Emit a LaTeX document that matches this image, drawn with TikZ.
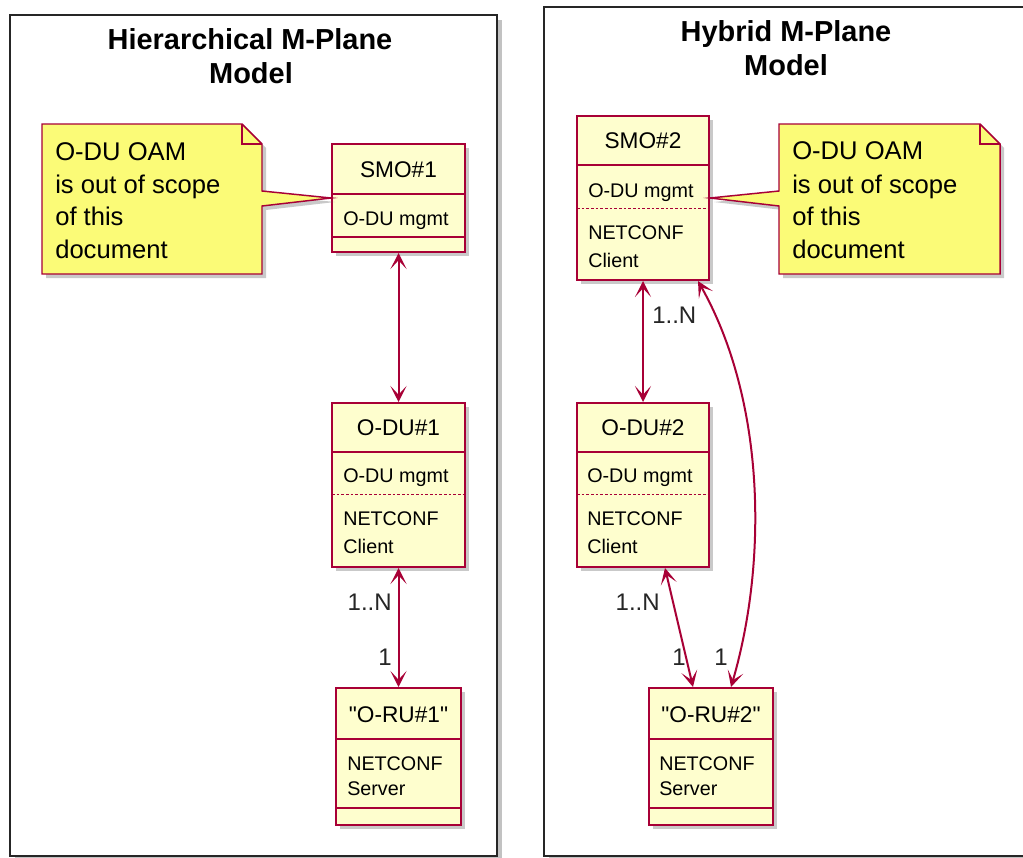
\documentclass[tikz,border=0pt]{standalone}
\usepackage{fontspec}
\setmainfont{Liberation Sans}[Ligatures=TeXOff]
\usetikzlibrary{fit,shadows,arrows.meta,calc}
\definecolor{umlred}{HTML}{A80036}
\definecolor{umlfill}{HTML}{FEFECE}
\definecolor{notefill}{HTML}{FBFB77}
\begin{document}
\begin{tikzpicture}[x=0.75pt,y=-0.75pt,
  shd/.style={drop shadow={shadow xshift=3pt,shadow yshift=-3pt,fill=black!60,opacity=0.35}},
  cls/.style={draw=umlred,line width=1.5pt,fill=umlfill,inner sep=0pt,shd},
  frm/.style={draw=black!85,line width=1.6pt,fill=white,inner sep=0pt,
    drop shadow={shadow xshift=4pt,shadow yshift=-4pt,fill=black!60,opacity=0.4}},
  sep/.style={draw=umlred,line width=1.2pt},
  dsep/.style={draw=umlred,line width=0.6pt,dash pattern=on 2pt off 1.5pt},
  ttl/.style={font=\fontsize{21.7}{26}\selectfont\bfseries,anchor=base,inner sep=0pt},
  cname/.style={font=\fontsize{17}{20}\selectfont,anchor=base,inner sep=0pt},
  mem/.style={font=\fontsize{14.8}{18}\selectfont,anchor=base west,inner sep=0pt},
  notetxt/.style={font=\fontsize{19.2}{24}\selectfont,anchor=base west,inner sep=0pt},
  notest/.style={draw=umlred,line width=1.1pt,fill=notefill,shd},
  mult/.style={font=\fontsize{18}{22}\selectfont,inner sep=0pt,text=black!85},
  link/.style={draw=umlred,line width=1.5pt,
    {Stealth[length=12pt,width=12pt,inset=6.5pt]}-{Stealth[length=12pt,width=12pt,inset=6.5pt]}}
]
\useasboundingbox (0,0) rectangle (1023,857);

% frames
\node[frm, fit={(10,15) (497,856)}] (hier) {};
\node[frm, fit={(544,7) (1040,856)}] (hyb) {};
\node[ttl] (t1a) at (250,49) {Hierarchical M-Plane};
\node[ttl] (t1b) at (251,83) {Model};
\node[ttl] (t2a) at (786,41) {Hybrid M-Plane};
\node[ttl] (t2b) at (786,75) {Model};

% SMO#1
\node[cls, fit={(332,144) (465,252)}] (smo1) {};
\draw[sep] (332,194) -- (465,194);
\draw[sep] (332,237) -- (465,237);
\node[cname] (smo1n) at (398.5,177) {SMO\#1};
\node[mem] (smo1m) at (343,225) {O-DU mgmt};

% O-DU#1
\node[cls, fit={(332,403) (465,567)}] (du1) {};
\draw[sep] (332,452) -- (465,452);
\draw[dsep] (332,494) -- (465,494);
\node[cname] (du1n) at (398.5,435) {O-DU\#1};
\node[mem] (du1m) at (343,482) {O-DU mgmt};
\node[mem] (du1a) at (343,525) {NETCONF};
\node[mem] (du1b) at (343,553) {Client};

% O-RU#1
\node[cls, fit={(336,688) (461,825)}] (ru1) {};
\draw[sep] (336,739) -- (461,739);
\draw[sep] (336,808) -- (461,808);
\node[cname] (ru1n) at (398.5,722) {"O-RU\#1"};
\node[mem] (ru1a) at (347,770) {NETCONF};
\node[mem] (ru1b) at (347,795) {Server};

% SMO#2
\node[cls, fit={(577,116) (709,280)}] (smo2) {};
\draw[sep] (577,165) -- (709,165);
\draw[dsep] (577,208) -- (709,208);
\node[cname] (smo2n) at (643,148) {SMO\#2};
\node[mem] (smo2m) at (588,197) {O-DU mgmt};
\node[mem] (smo2a) at (588,239) {NETCONF};
\node[mem] (smo2b) at (588,267) {Client};

% O-DU#2
\node[cls, fit={(577,403) (709,567)}] (du2) {};
\draw[sep] (577,452) -- (709,452);
\draw[dsep] (577,494) -- (709,494);
\node[cname] (du2n) at (643,435) {O-DU\#2};
\node[mem] (du2m) at (587,482) {O-DU mgmt};
\node[mem] (du2a) at (587,525) {NETCONF};
\node[mem] (du2b) at (587,553) {Client};

% O-RU#2
\node[cls, fit={(649,688) (773,825)}] (ru2) {};
\draw[sep] (649,739) -- (773,739);
\draw[sep] (649,808) -- (773,808);
\node[cname] (ru2n) at (711,722) {"O-RU\#2"};
\node[mem] (ru2a) at (659,770) {NETCONF};
\node[mem] (ru2b) at (659,795) {Server};

% notes
\path[notest] (42,124) -- (242,124) -- (262,144) -- (262,191) -- (smo1.west) -- (262,206) -- (262,274) -- (42,274) -- cycle;
\draw[umlred,line width=1.1pt] (242,124) -- (242,144) -- (262,144);
\node[notetxt] (n1a) at (55,160) {O-DU OAM};
\node[notetxt] (n1b) at (55,193) {is out of scope};
\node[notetxt] (n1c) at (55,225) {of this};
\node[notetxt] (n1d) at (55,258) {document};

\path[notest] (779,124) -- (980,124) -- (1000,144) -- (1000,274) -- (779,274) -- (779,206) -- (smo2.east) -- (779,191) -- cycle;
\draw[umlred,line width=1.1pt] (980,124) -- (980,144) -- (1000,144);
\node[notetxt] (n2a) at (792,159) {O-DU OAM};
\node[notetxt] (n2b) at (792,193) {is out of scope};
\node[notetxt] (n2c) at (792,225) {of this};
\node[notetxt] (n2d) at (792,258) {document};

% links
\draw[link] (smo1.south) -- (du1.north);
\draw[link] (du1.south) -- (ru1.north);
\draw[link] (smo2.south) -- (du2.north);
\draw[link] ($(du2.south)+(22,0)$) -- ($(ru2.north)+(-18,0)$);
\draw[link] ($(smo2.south)+(55,0)$) .. controls (765,400) and (768,560) .. ($(ru2.north)+(20,0)$);

% multiplicities
\node[mult, anchor=base east] (l1) at (392,610) {1..N};
\node[mult, anchor=base east] (l2) at (392,665) {1};
\node[mult, anchor=base west] (l3) at (652,323) {1..N};
\node[mult, anchor=base east] (l4) at (660,610) {1..N};
\node[mult, anchor=base east] (l5) at (686,665) {1};
\node[mult, anchor=base east] (l6) at (728,665) {1};
\end{tikzpicture}
\end{document}
